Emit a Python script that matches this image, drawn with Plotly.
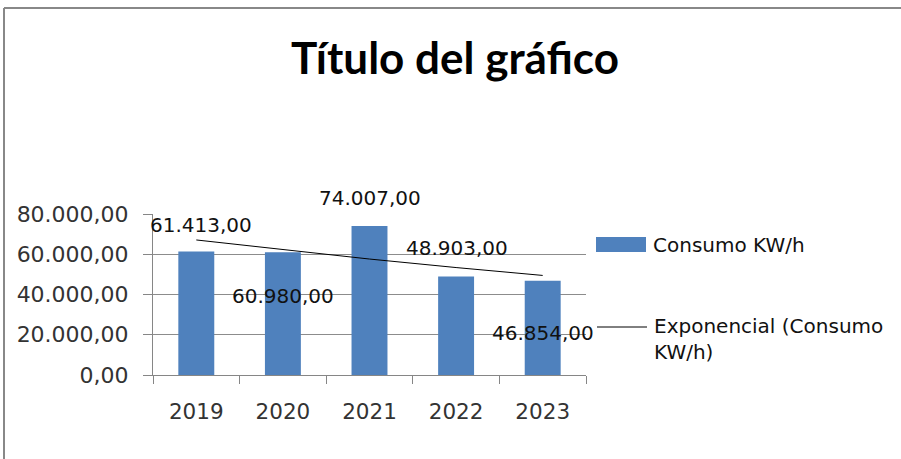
import numpy as np
import plotly.graph_objects as go

years = ["2019", "2020", "2021", "2022", "2023"]
consumo = [61413, 60980, 74007, 48903, 46854]
series_name = "Consumo KW/h"
trend_name = "Exponencial (Consumo<br>KW/h)"
title_text = "Título del gráfico"

# exponential trendline fit (as Excel does)
xi = np.arange(1, len(consumo) + 1)
b, a = np.polyfit(xi, np.log(consumo), 1)
trend = np.exp(a + b * xi)

def es_fmt(v):
    s = f"{v:,.2f}"
    return s.replace(",", "X").replace(".", ",").replace("X", ".")

L, R, T, B = 153, 586, 214, 375
W, H = 901, 459
pw, ph = R - L, B - T

def px(x):
    return (x - L) / pw

def py(y):
    return (B - y) / ph

FONT = "DejaVu Sans"
fig = go.Figure()
fig.add_trace(go.Bar(x=years, y=consumo, marker=dict(color="#4F81BD", line=dict(width=0)),
                     name=series_name, showlegend=False))
fig.add_trace(go.Scatter(x=years, y=trend, mode="lines", line=dict(color="black", width=1),
                         name="Exponencial", showlegend=False))

# data labels (Excel-like placement)
shifts = [(5, 26), (0, -44), (0, 28), (1, 29), (0, -52)]
anns = []
for i, (v, (dx, dy)) in enumerate(zip(consumo, shifts)):
    anns.append(dict(x=i, y=v, xref="x", yref="y", text=es_fmt(v), showarrow=False,
                     xanchor="center", yanchor="middle",
                     xshift=dx, yshift=dy, font=dict(family=FONT, size=20, color="#111")))

anns.append(dict(x=px(455), y=py(57), xref="paper", yref="paper", text="<b>" + title_text + "</b>",
                 xanchor="center", yanchor="middle",
                 showarrow=False, font=dict(family="Lato", size=44, color="#000")))
anns.append(dict(x=px(651), y=py(245), xref="paper", yref="paper", text=series_name,
                 xanchor="left", yanchor="middle", showarrow=False,
                 font=dict(family=FONT, size=20, color="#111")))
anns.append(dict(x=px(652), y=py(312), xref="paper", yref="paper", text=trend_name,
                 xanchor="left", yanchor="top", align="left", showarrow=False,
                 font=dict(family=FONT, size=20, color="#111")))

shapes = [
    dict(type="rect", xref="paper", yref="paper", x0=px(596), x1=px(646), y0=py(252), y1=py(237),
         fillcolor="#4F81BD", line=dict(width=0)),
    dict(type="line", xref="paper", yref="paper", x0=px(597), x1=px(647), y0=py(327), y1=py(327),
         line=dict(color="black", width=1)),
    dict(type="line", xref="paper", yref="paper", x0=px(4), x1=px(905), y0=py(8), y1=py(8),
         line=dict(color="#888888", width=2)),
    dict(type="line", xref="paper", yref="paper", x0=px(4), x1=px(4), y0=py(8), y1=py(465),
         line=dict(color="#888888", width=2)),
]

fig.update_layout(
    width=W, height=H,
    margin=dict(l=L, r=W - R, t=T, b=H - B, pad=0, autoexpand=False),
    paper_bgcolor="white", plot_bgcolor="white",
    separators=",.",
    bargap=0.585,
    showlegend=False,
    annotations=anns, shapes=shapes,
    xaxis=dict(type="category", range=[-0.5, 4.5], autorange=False, automargin=False,
               showgrid=False, showline=True, linecolor="#868686", linewidth=1,
               ticks="outside", tickson="boundaries", ticklen=8, tickcolor="#868686", tickangle=0,
               tickfont=dict(family=FONT, size=21.5, color="#333"), ticklabelstandoff=17),
    yaxis=dict(range=[0, 80000], autorange=False, automargin=False,
               tickvals=[0, 20000, 40000, 60000, 80000], tickformat=",.2f",
               showgrid=True, gridcolor="#8c8c8c", gridwidth=1, showline=True, linecolor="#868686",
               ticks="outside", ticklen=9, tickcolor="#868686", zeroline=False,
               tickfont=dict(family=FONT, size=22, color="#333"), ticklabelstandoff=10),
)

fig.write_html("out.html", config={"displayModeBar": False},
               post_script="document.body.style.margin='0px';")
